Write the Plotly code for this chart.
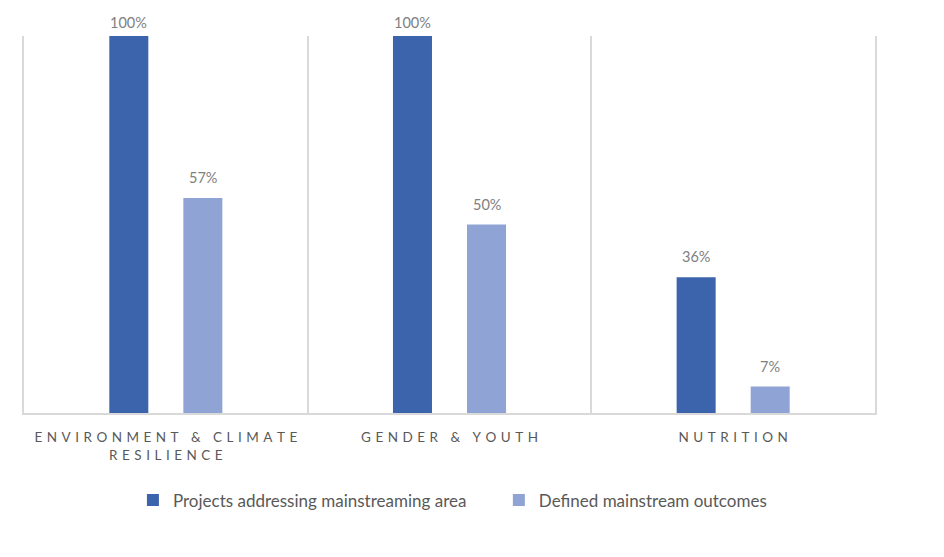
import plotly.graph_objects as go

categories = ["ENVIRONMENT & CLIMATE<br>RESILIENCE", "GENDER & YOUTH", "NUTRITION"]
projects_addressing = [1.00, 1.00, 0.36]
defined_outcomes = [0.57, 0.50, 0.07]
series_names = ["Projects addressing mainstreaming area", "Defined mainstream outcomes"]
series_colors = ["#3C64AD", "#8FA3D5"]


def spaced(label):
    # widen the tracking of the category captions with narrow spaces
    return "<br>".join("\u2004".join(list(part)) for part in label.split("<br>"))


tick_text = [spaced(c) for c in categories]
legend_ids = ["legend", "legend2"]

fig = go.Figure()
annotations = []
for k, (name, vals, color) in enumerate(zip(series_names, [projects_addressing, defined_outcomes], series_colors)):
    fig.add_trace(go.Bar(
        x=categories, y=vals, name=name, marker_color=color, marker_line_width=0,
        legend=legend_ids[k],
    ))
    # value labels above each bar, offset to the bar's slot within the group
    for cat, v in zip(categories, vals):
        annotations.append(dict(
            x=cat, y=v, xref="x", yref="y", text=f"{round(v * 100)}%",
            showarrow=False, yanchor="bottom", xshift=-37 if k == 0 else 37,
            yshift=3 if v >= 1 else 10,
            font=dict(color="#808080", size=14.5, family="Lato"),
        ))

legend_style = dict(orientation="h", xanchor="left", y=-0.232, yanchor="middle",
                    font=dict(size=17, color="#595959"), itemwidth=30)

fig.update_layout(
    width=944, height=557,
    margin=dict(l=24, r=69, t=36, b=144),
    paper_bgcolor="white", plot_bgcolor="white",
    barmode="group", bargap=0.478, bargroupgap=0.473,
    font=dict(family="Lato", color="#595959"),
    showlegend=True,
    annotations=annotations,
    legend=dict(x=0.128, **legend_style),
    legend2=dict(x=0.558, **legend_style),
    xaxis=dict(
        type="category", categoryorder="array", categoryarray=categories,
        tickmode="array", tickvals=categories, ticktext=tick_text,
        tickson="boundaries", ticks="", ticklabelstandoff=11,
        showgrid=True, gridcolor="#D9D9D9", gridwidth=1.5,
        showline=True, linecolor="#D9D9D9", linewidth=1.5,
        tickfont=dict(size=13.5, color="#595959", family="Lato"),
    ),
    yaxis=dict(range=[0, 1], showgrid=False, showticklabels=False, zeroline=False,
               showline=True, mirror=True, linecolor="#D9D9D9", linewidth=1.5),
)

fig.write_html("out.html")
